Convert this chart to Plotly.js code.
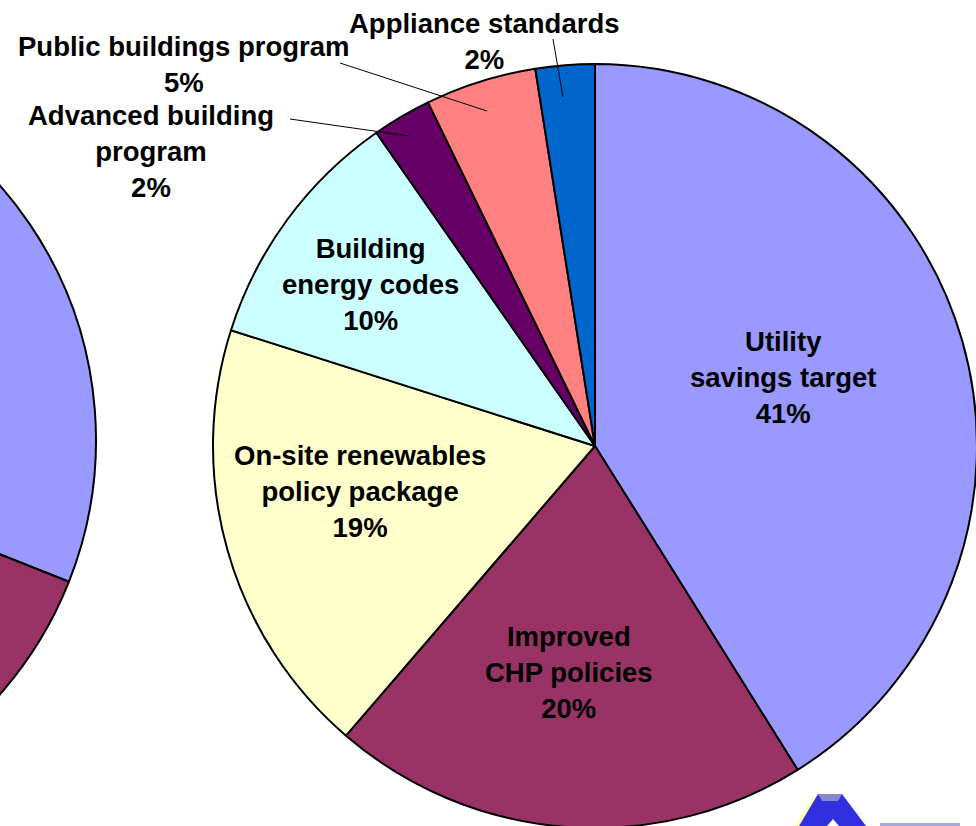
<!DOCTYPE html>
<html>
<head>
<meta charset="utf-8">
<script src="https://cdn.plot.ly/plotly-3.0.1.min.js"></script>
<style>
html,body{margin:0;padding:0;width:976px;height:826px;overflow:hidden;background:#fff;}
#chart{position:absolute;left:-700px;top:0;width:1700px;height:900px;}
</style>
</head>
<body>
<div id="chart"></div>
<script>
// ---- data ----
var categories = ["Utility savings target","Improved CHP policies","On-site renewables policy package","Building energy codes","Advanced building program","Public buildings program","Appliance standards"];
var labelLines = ["Utility<br>savings target","Improved<br>CHP policies","On-site renewables<br>policy package","Building<br>energy codes","Advanced building<br>program","Public buildings program","Appliance standards"];
var shareLabels = ["41%","20%","19%","10%","2%","5%","2%"];
var values = [41.1, 20.2, 18.6, 10.4, 2.5, 4.7, 2.5];
var colors = ["#9999FF","#993366","#FFFFCC","#CCFFFF","#660066","#FF8080","#0066CC"];
// partially visible second pie at the left edge (only first two slices visible)
var leftValues = [31, 22, 20, 14, 4, 6, 3];

// ---- geometry helpers (pixel -> paper) ----
var W = 1700, H = 900, OFF = 700;
function px(x){ return (x + OFF) / W; }
function py(y){ return 1 - y / H; }
function dom(cx, cy, r){ return {x:[px(cx - r), px(cx + r)], y:[py(cy + r), py(cy - r)]}; }

var mainPie = {
  type:"pie", labels:categories, values:values, sort:false, direction:"clockwise", rotation:0,
  marker:{colors:colors, line:{color:"#000", width:2}},
  textinfo:"none", hoverinfo:"label+percent", showlegend:false,
  domain: dom(595, 446, 382)
};
var leftPie = {
  type:"pie", labels:categories, values:leftValues, sort:false, direction:"clockwise", rotation:0,
  marker:{colors:colors, line:{color:"#000", width:2}},
  textinfo:"none", hoverinfo:"label+percent", showlegend:false,
  domain: dom(-289, 440, 385)
};

var font = {family:"Liberation Sans, Arial, sans-serif", size:27.5, color:"#000", weight:700};
// label centres in pixels
var labelPos = [[783,377.5],[569,672.5],[360,492],[370,284.5],[151,152],[184,64.5],[484,41.5]];
var annotations = categories.map(function(c,i){
  return {text: labelLines[i] + "<br>" + shareLabels[i], x:px(labelPos[i][0]), y:py(labelPos[i][1]),
    xref:"paper", yref:"paper", xanchor:"center", yanchor:"middle", showarrow:false, font:font, align:"center"};
});

function seg(x0,y0,x1,y1){
  return {type:"line", xref:"paper", yref:"paper", x0:px(x0), y0:py(y0), x1:px(x1), y1:py(y1), line:{color:"#000", width:1}};
}
function path(pts, fill){
  var d = pts.map(function(p,i){ return (i? "L":"M") + px(p[0]) + "," + py(p[1]); }).join(" ") + " Z";
  return {type:"path", xref:"paper", yref:"paper", path:d, fillcolor:fill, line:{width:0}};
}
var shapes = [
  seg(553,39,563,97),
  seg(340,63,487,111),
  seg(290,119,409,136),
  // logo fragment
  path([[795,826],[815,795],[819,795],[800,826]], "#FFFFAA"),
  path([[799,826],[818,794],[842,794],[866,826]], "#3030E0"),
  path([[818,794],[842,794],[838,801],[822,801]], "#8888CC"),
  path([[827,826],[833,819],[839,826]], "#FFFFFF"),
  path([[880,823],[960,823],[960,826],[880,826]], "#A8A8E0")
];

var layout = {
  width:W, height:H, margin:{l:0,r:0,t:0,b:0},
  paper_bgcolor:"#fff", plot_bgcolor:"#fff",
  showlegend:false, annotations:annotations, shapes:shapes
};
Plotly.newPlot("chart", [leftPie, mainPie], layout, {displayModeBar:false, staticPlot:true});
</script>
</body>
</html>
